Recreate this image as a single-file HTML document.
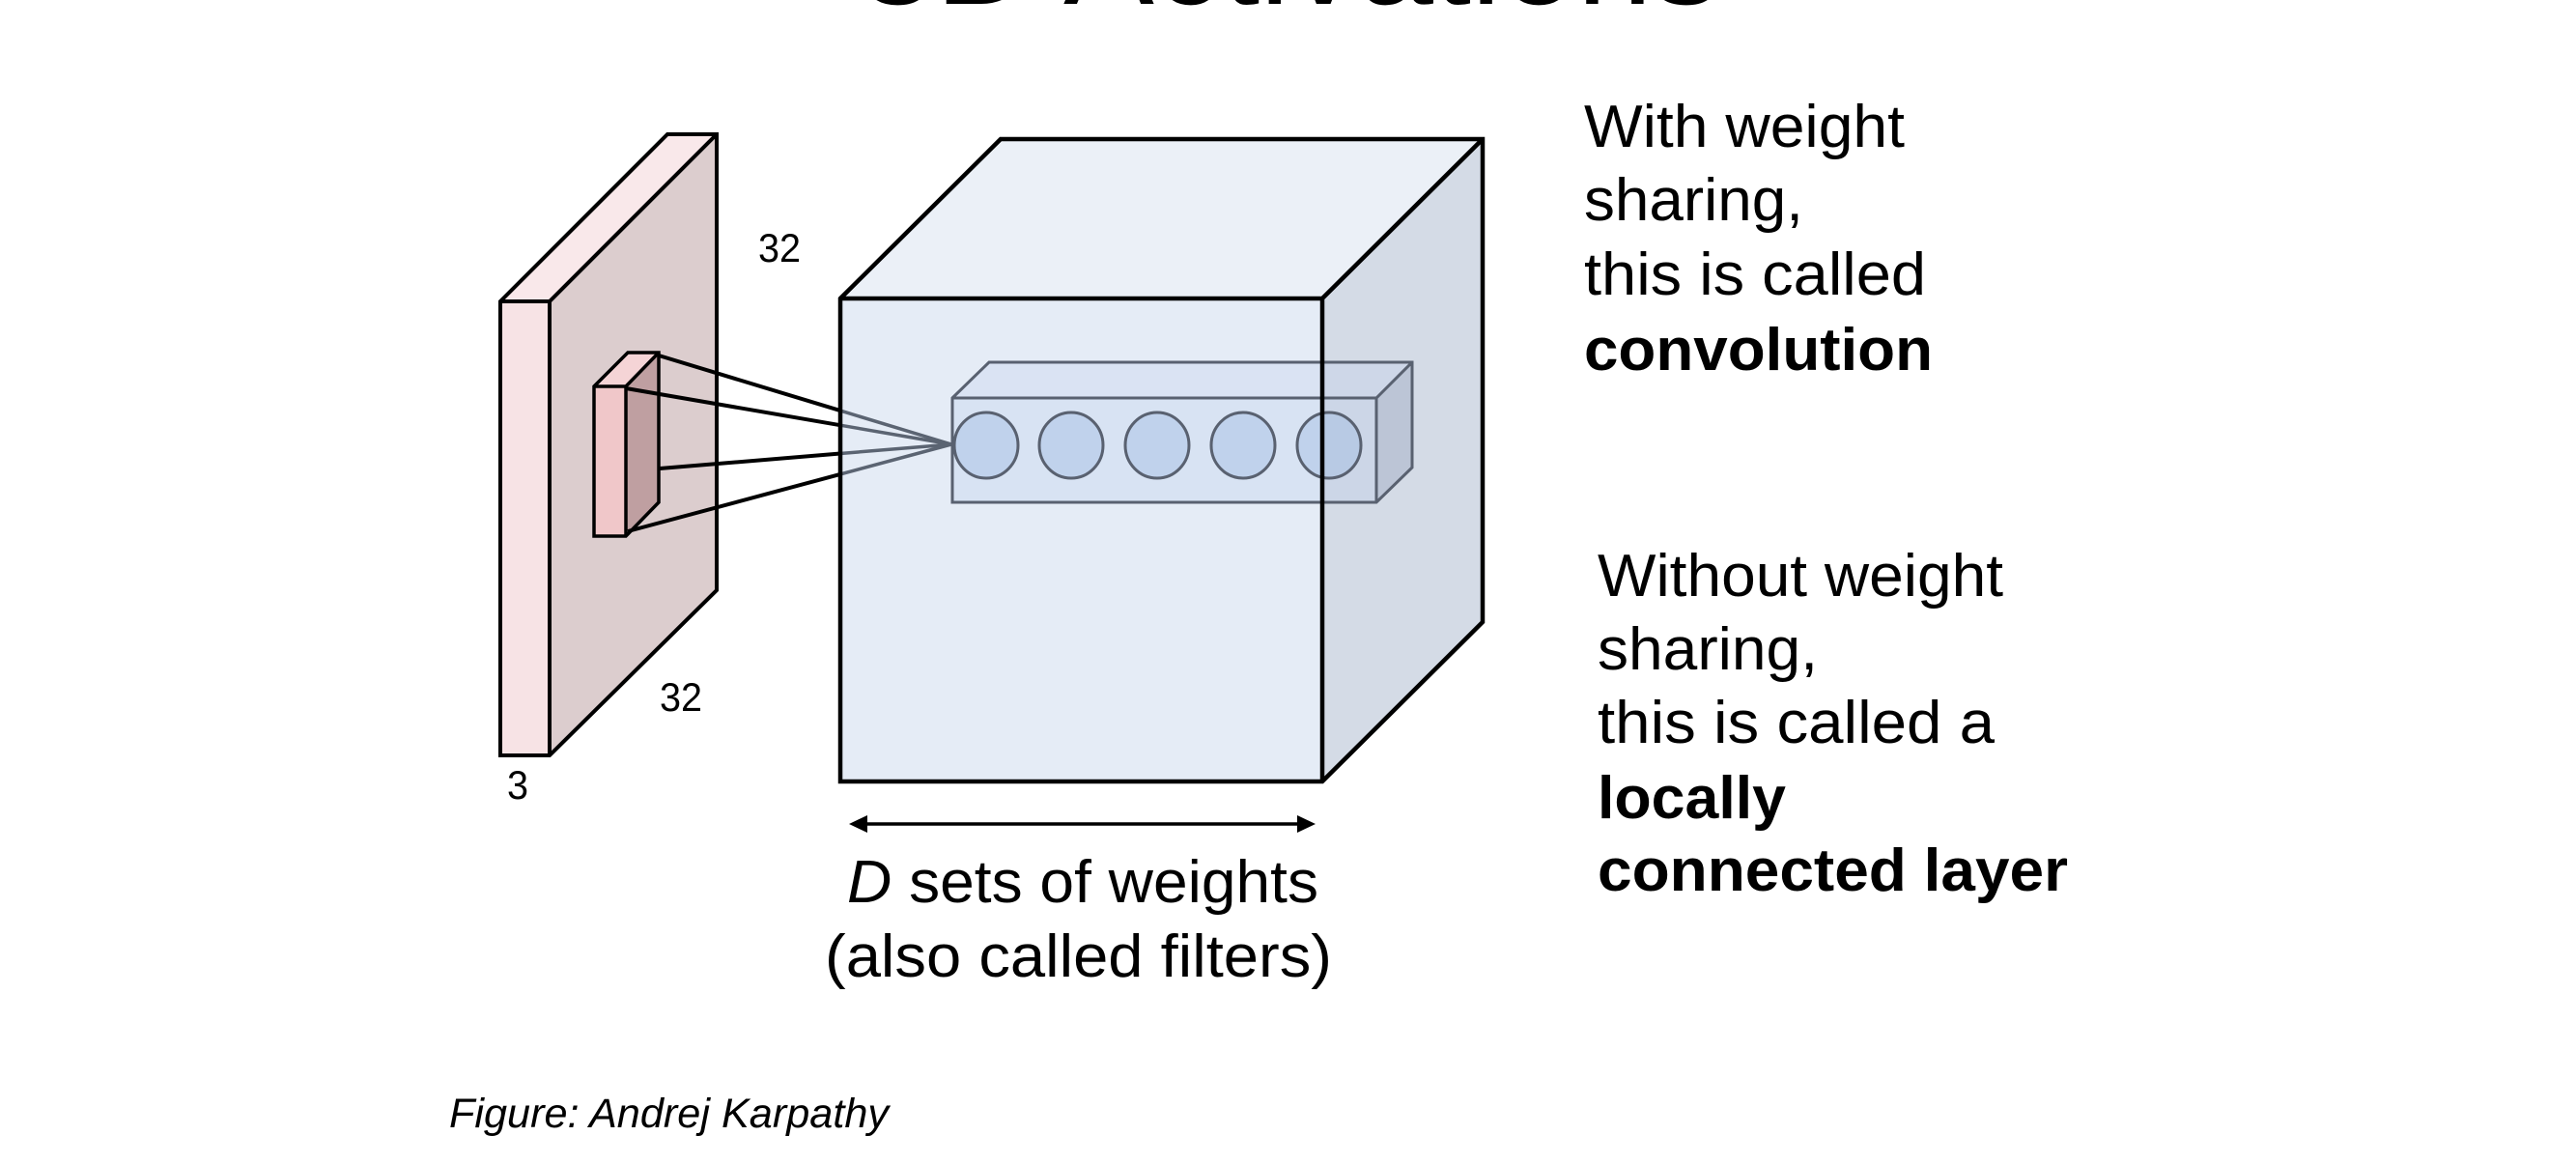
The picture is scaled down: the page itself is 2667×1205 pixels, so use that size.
<!DOCTYPE html>
<html>
<head>
<meta charset="utf-8">
<style>
  html, body { margin: 0; padding: 0; background: #ffffff; }
  body { width: 2667px; height: 1205px; overflow: hidden; }
  svg { display: block; }
  text { font-family: "Liberation Sans", Arial, sans-serif; fill: #000; }
</style>
</head>
<body>
<svg xmlns="http://www.w3.org/2000/svg" width="2667" height="1205" viewBox="0 0 2667 1205">
  <rect x="0" y="0" width="2667" height="1205" fill="#ffffff"/>

  <!-- Title (cut off at top) -->
  <text x="890" y="4" font-size="135" textLength="891" lengthAdjust="spacingAndGlyphs">3D Activations</text>

  <!-- ===== Input slab (pink) ===== -->
  <polygon points="518,312 691,139 742,139 569,312" fill="#f9e8ea"/>
  <polygon points="569,312 742,139 742,611 569,782" fill="#dccdce"/>
  <rect x="518" y="312" width="51" height="470" fill="#f7e3e5"/>
  <path d="M518,312 L691,139 L742,139 L742,611 L569,782 L518,782 Z M518,312 L569,312 L742,139 M569,312 L569,782"
        fill="none" stroke="#000" stroke-width="4" stroke-linejoin="miter"/>

  <!-- small receptive-field cube -->
  <polygon points="615,400 650,365 682,365 648,400" fill="#f5d4d6"/>
  <polygon points="648,400 682,365 682,520 648,555" fill="#bf9fa1"/>
  <rect x="615" y="400" width="33" height="155" fill="#f0c7c9"/>
  <path d="M615,400 L650,365 L682,365 L682,520 L648,555 L615,555 Z M615,400 L648,400 L682,365 M648,400 L648,555"
        fill="none" stroke="#000" stroke-width="3.5" stroke-linejoin="miter"/>

  <!-- labels on slab -->
  <text x="785" y="271" font-size="42" textLength="44" lengthAdjust="spacingAndGlyphs">32</text>
  <text x="683" y="736" font-size="42" textLength="44" lengthAdjust="spacingAndGlyphs">32</text>
  <text x="525" y="827" font-size="42" textLength="22" lengthAdjust="spacingAndGlyphs">3</text>

  <!-- ===== Output volume cube (blue) ===== -->
  <rect x="870" y="309" width="499" height="500" fill="#e5ecf6"/>
  <polygon points="870,309 1036,144 1535,144 1369,309" fill="#ebf0f7"/>
  <polygon points="1369,309 1535,144 1535,644 1369,809" fill="#d4dbe6"/>

  <!-- connection lines: grey part inside cube -->
  <g stroke="#5b6472" stroke-width="3.5" stroke-linecap="round">
    <line x1="870" y1="425.1" x2="985" y2="460"/>
    <line x1="870" y1="440.2" x2="985" y2="460"/>
    <line x1="870" y1="469.5" x2="985" y2="460"/>
    <line x1="870" y1="490.9" x2="985" y2="460"/>
  </g>
  <!-- connection lines: black part outside cube -->
  <g stroke="#000" stroke-width="4" stroke-linecap="butt">
    <line x1="682" y1="368" x2="870" y2="425.1"/>
    <line x1="648" y1="402" x2="870" y2="440.2"/>
    <line x1="683" y1="485" x2="870" y2="469.5"/>
    <line x1="650" y1="550" x2="870" y2="490.9"/>
  </g>

  <!-- neuron column box -->
  <polygon points="986,412 1024,375 1462,375 1425,412" fill="rgba(190,206,236,0.28)"/>
  <polygon points="1425,412 1462,375 1462,484 1425,520" fill="#bcc5d6"/>
  <rect x="986" y="412" width="439" height="108" fill="rgba(180,200,235,0.25)"/>
  <path d="M986,412 L1024,375 L1462,375 L1462,484 L1425,520 L986,520 Z M986,412 L1425,412 L1462,375 M1425,412 L1425,520"
        fill="none" stroke="#596170" stroke-width="3" stroke-linejoin="miter"/>

  <!-- neurons -->
  <g fill="rgba(150,180,225,0.36)" stroke="#596170" stroke-width="3">
    <ellipse cx="1021" cy="461" rx="33" ry="34"/>
    <ellipse cx="1109" cy="461" rx="33" ry="34"/>
    <ellipse cx="1198" cy="461" rx="33" ry="34"/>
    <ellipse cx="1287" cy="461" rx="33" ry="34"/>
    <ellipse cx="1376" cy="461" rx="33" ry="34"/>
  </g>

  <!-- cube outline on top -->
  <path d="M870,309 L1036,144 L1535,144 L1535,644 L1369,809 L870,809 Z M870,309 L1369,309 L1535,144 M1369,309 L1369,809"
        fill="none" stroke="#000" stroke-width="4.5" stroke-linejoin="miter"/>

  <!-- double-headed arrow -->
  <line x1="895" y1="853" x2="1346" y2="853" stroke="#000" stroke-width="3.5"/>
  <polygon points="879,853 898,844 898,862" fill="#000"/>
  <polygon points="1362,853 1343,844 1343,862" fill="#000"/>

  <!-- bottom caption under cube -->
  <text x="877" y="934" font-size="62" textLength="488" lengthAdjust="spacingAndGlyphs"><tspan font-style="italic">D</tspan> sets of weights</text>
  <text x="854" y="1011" font-size="62" textLength="525" lengthAdjust="spacingAndGlyphs">(also called filters)</text>

  <!-- right text block 1 -->
  <text x="1640" y="152" font-size="62" textLength="332" lengthAdjust="spacingAndGlyphs">With weight</text>
  <text x="1640" y="228" font-size="62" textLength="227" lengthAdjust="spacingAndGlyphs">sharing,</text>
  <text x="1640" y="305" font-size="62" textLength="354" lengthAdjust="spacingAndGlyphs">this is called</text>
  <text x="1640" y="383" font-size="62" font-weight="bold" textLength="361" lengthAdjust="spacingAndGlyphs">convolution</text>

  <!-- right text block 2 -->
  <text x="1654" y="617" font-size="62" textLength="420" lengthAdjust="spacingAndGlyphs">Without weight</text>
  <text x="1654" y="693" font-size="62" textLength="228" lengthAdjust="spacingAndGlyphs">sharing,</text>
  <text x="1654" y="769" font-size="62" textLength="411" lengthAdjust="spacingAndGlyphs">this is called a</text>
  <text x="1654" y="847" font-size="62" font-weight="bold" textLength="195" lengthAdjust="spacingAndGlyphs">locally</text>
  <text x="1654" y="922" font-size="62" font-weight="bold" textLength="487" lengthAdjust="spacingAndGlyphs">connected layer</text>

  <!-- figure credit -->
  <text x="465" y="1167" font-size="43" font-style="italic" fill="#111" textLength="455" lengthAdjust="spacingAndGlyphs">Figure: Andrej Karpathy</text>
</svg>
</body>
</html>
